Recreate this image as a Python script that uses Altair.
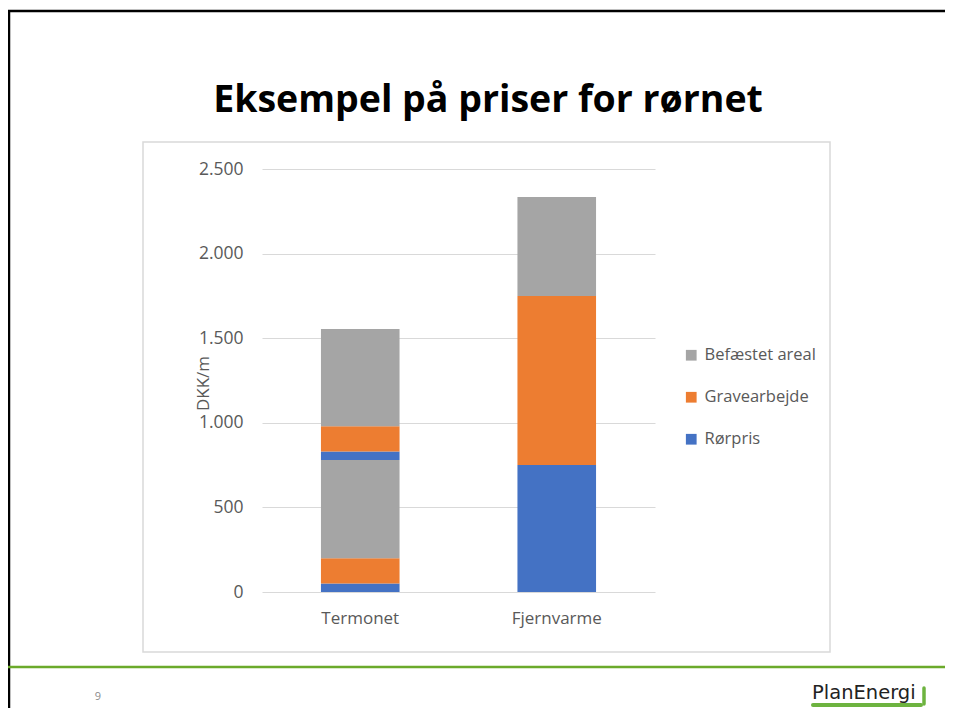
import altair as alt
import pandas as pd

# ---- data ----
categories = ["Termonet", "Fjernvarme"]
components = ["Befæstet areal", "Gravearbejde", "Rørpris"]
component_colors = ["#A5A5A5", "#ED7D31", "#4472C4"]

seg_category = ["Termonet"] * 6 + ["Fjernvarme"] * 3
seg_component = ["Rørpris", "Gravearbejde", "Befæstet areal",
                 "Rørpris", "Gravearbejde", "Befæstet areal",
                 "Rørpris", "Gravearbejde", "Befæstet areal"]
seg_value = [50, 150, 580, 50, 150, 575, 750, 1000, 585]
seg_order = [1, 2, 3, 4, 5, 6, 1, 2, 3]
y_ticks = [0, 500, 1000, 1500, 2000, 2500]

title_text = "Eksempel på priser for rørnet"
page_number = "9"
logo_text = "PlanEnergi"

df = pd.DataFrame({
    "kategori": seg_category,
    "komponent": seg_component,
    "værdi": seg_value,
    "rækkefølge": seg_order,
})
dummy = pd.DataFrame({"d": [0]})

FONT = "Open Sans"
GREY_TXT = "#595959"

bars = alt.Chart(df).mark_bar().encode(
    x=alt.X("kategori:N", sort=categories,
            scale=alt.Scale(paddingInner=0.6, paddingOuter=0.3),
            axis=alt.Axis(title=None, labelFont=FONT, labelFontSize=17,
                          labelColor=GREY_TXT, labelPadding=18, ticks=False,
                          domain=False, labelAngle=0, grid=False)),
    y=alt.Y("værdi:Q", stack="zero",
            scale=alt.Scale(domain=[0, 2500], nice=False),
            axis=alt.Axis(values=y_ticks, title="DKK/m",
                          labelExpr="replace(format(datum.value, ','), ',', '.')",
                          labelFont=FONT, labelFontSize=17.5, labelColor=GREY_TXT,
                          labelPadding=19, ticks=False, domain=False,
                          grid=True, gridColor="#D9D9D9", gridWidth=1.2,
                          titleFont=FONT, titleFontSize=17, titleColor=GREY_TXT,
                          titleFontWeight="normal", titleAngle=270,
                          titleX=-59, titleY=214, titleAlign="center",
                          titleBaseline="middle")),
    color=alt.Color("komponent:N",
                    scale=alt.Scale(domain=components, range=component_colors),
                    legend=alt.Legend(title=None, orient="none", legendX=421,
                                      legendY=178, symbolType="square",
                                      symbolSize=115, symbolStrokeWidth=0,
                                      labelFont=FONT, labelFontSize=16.5,
                                      labelColor=GREY_TXT, rowPadding=25,
                                      labelOffset=5, padding=0)),
    order=alt.Order("rækkefølge:Q", sort="ascending"),
)

# chart frame box
box = alt.Chart(dummy).mark_rect(fillOpacity=0, stroke="#D9D9D9", strokeWidth=1.5).encode(
    x=alt.value(-119), x2=alt.value(568), y=alt.value(-27), y2=alt.value(483)
)

# slide decorations
top_border = alt.Chart(dummy).mark_rule(color="black", strokeWidth=2.5).encode(
    x=alt.value(-255), x2=alt.value(700), y=alt.value(-158), y2=alt.value(-158)
)
left_border = alt.Chart(dummy).mark_rule(color="black", strokeWidth=2.5).encode(
    x=alt.value(-253), x2=alt.value(-253), y=alt.value(-159), y2=alt.value(560)
)
green_line = alt.Chart(dummy).mark_rule(color="#6BAA2B", strokeWidth=2.5).encode(
    x=alt.value(-255), x2=alt.value(700), y=alt.value(498), y2=alt.value(498)
)

title = alt.Chart(dummy).mark_text(
    text=title_text, font=FONT, fontSize=37.5, fontWeight="bold", color="black",
    align="center", baseline="alphabetic"
).encode(x=alt.value(226), y=alt.value(-57))

pnum = alt.Chart(dummy).mark_text(
    text=page_number, font=FONT, fontSize=11, color="#8C8C8C",
    align="center", baseline="middle"
).encode(x=alt.value(-164), y=alt.value(528))

logo = alt.Chart(dummy).mark_text(
    text=logo_text, font="DejaVu Sans", fontSize=19.5, color="#222222",
    align="left", baseline="alphabetic"
).encode(x=alt.value(550), y=alt.value(530))
logo_swoosh = alt.Chart(dummy).mark_rule(color="#6DB33F", strokeWidth=4, strokeCap="round").encode(
    x=alt.value(551), x2=alt.value(659), y=alt.value(536), y2=alt.value(536)
)
logo_hook = alt.Chart(dummy).mark_rule(color="#6DB33F", strokeWidth=3.5, strokeCap="round").encode(
    x=alt.value(662), x2=alt.value(662), y=alt.value(519), y2=alt.value(535)
)

chart = alt.layer(
    box, bars, top_border, left_border, green_line, title, pnum,
    logo, logo_swoosh, logo_hook
).properties(
    width=393, height=423,
    autosize=alt.AutoSizeParams(type="none"),
    padding={"left": 254, "top": 161, "right": 290, "bottom": 116},
    background="white",
).configure_view(stroke=None)

chart.save("out.html", embed_options={"renderer": "svg", "actions": False})
